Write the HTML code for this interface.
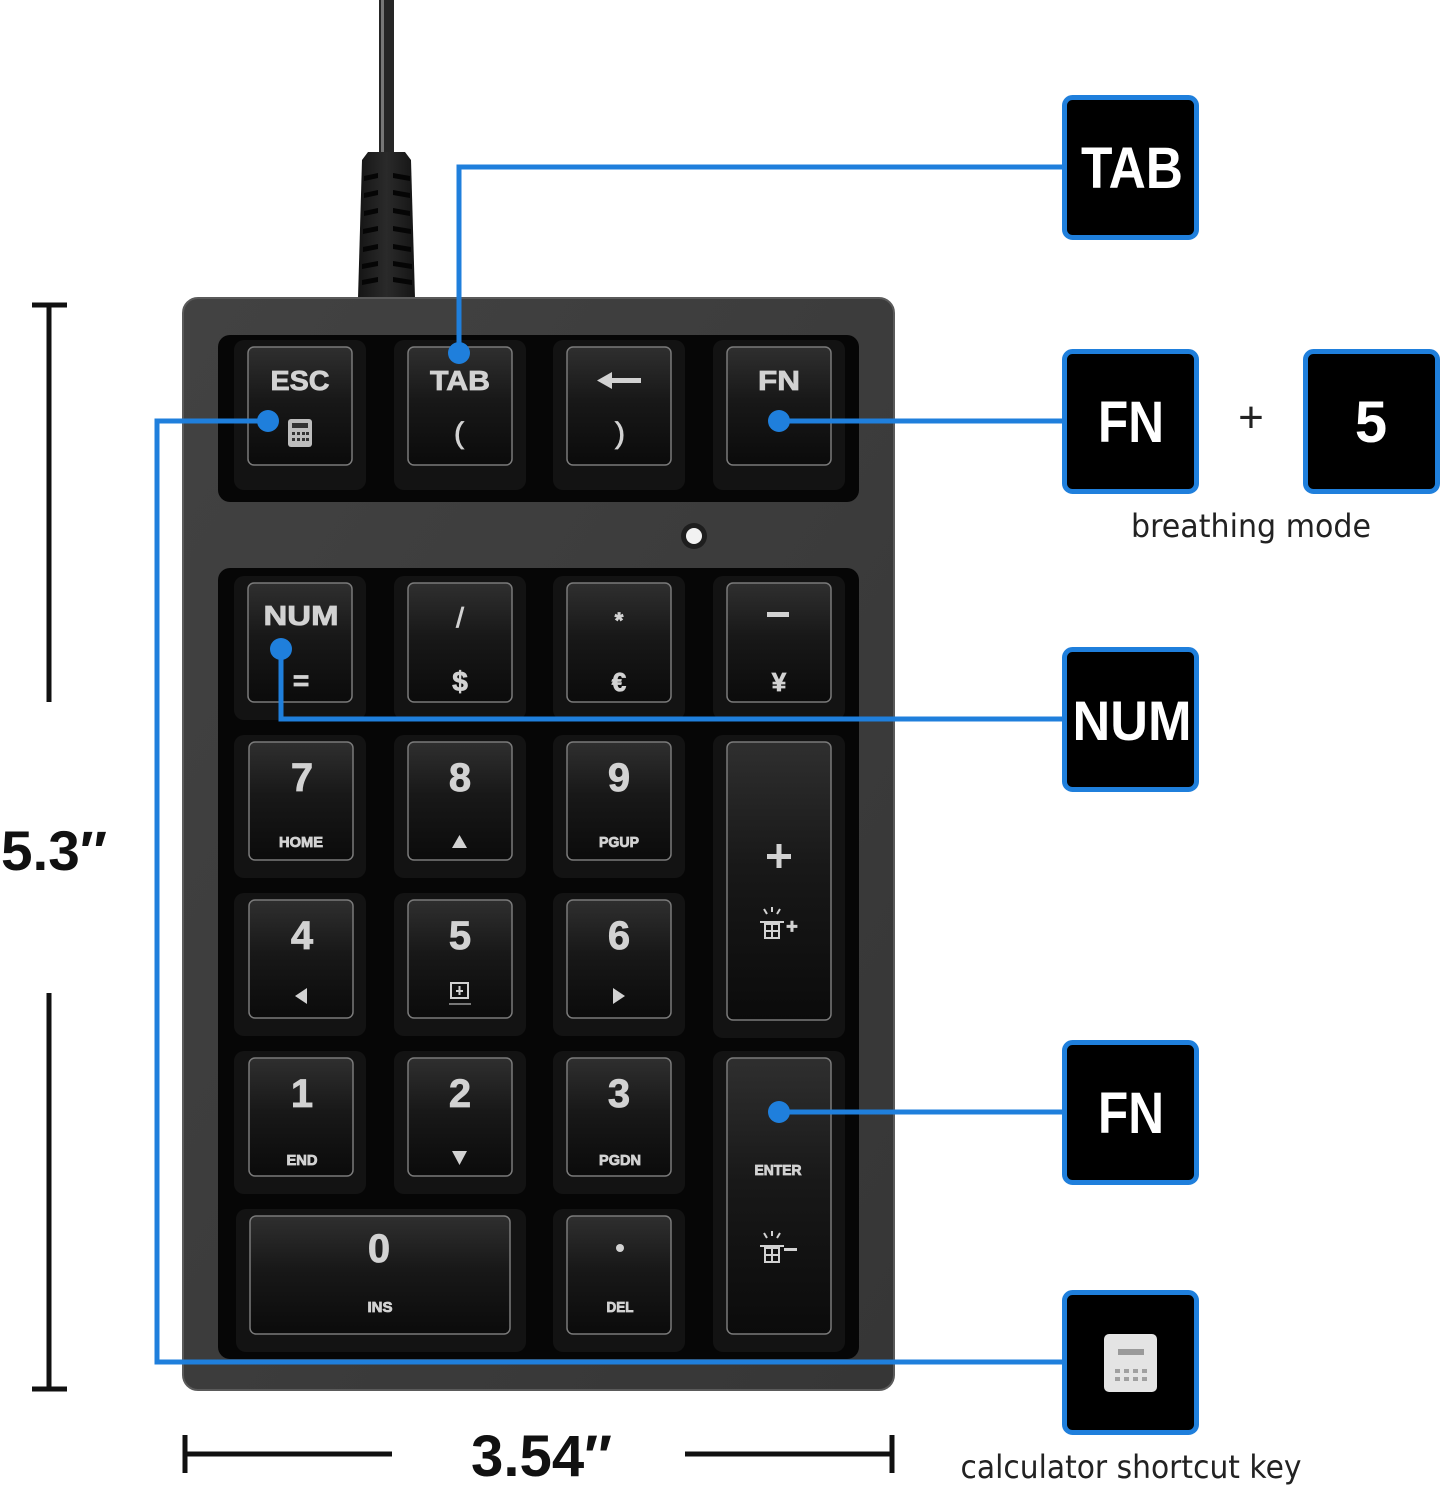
<!DOCTYPE html>
<html>
<head>
<meta charset="utf-8">
<style>
  html,body{margin:0;padding:0;background:#fff;}
  svg{display:block;}
  .kl{font-family:"Liberation Sans",sans-serif;font-weight:bold;fill:#d2d2d2;stroke:#d2d2d2;stroke-width:0.8;text-anchor:middle;}
  .bx{font-family:"Liberation Sans",sans-serif;font-weight:bold;fill:#fff;text-anchor:middle;}
  .cap{font-family:"DejaVu Sans","Liberation Sans",sans-serif;fill:#222;text-anchor:middle;}
  .dim{font-family:"Liberation Sans",sans-serif;font-weight:bold;fill:#111;}
</style>
</head>
<body>
<svg width="1445" height="1490" viewBox="0 0 1445 1490" xmlns="http://www.w3.org/2000/svg">
  <defs>
    <linearGradient id="kf" x1="0" y1="0" x2="0" y2="1">
      <stop offset="0" stop-color="#2f2f2f"/>
      <stop offset="0.45" stop-color="#181818"/>
      <stop offset="1" stop-color="#0b0b0b"/>
    </linearGradient>
    <linearGradient id="body" x1="0" y1="0" x2="1" y2="1">
      <stop offset="0" stop-color="#424242"/>
      <stop offset="1" stop-color="#363636"/>
    </linearGradient>
    <linearGradient id="conn" x1="0" y1="0" x2="1" y2="0">
      <stop offset="0" stop-color="#151515"/>
      <stop offset="0.5" stop-color="#2a2a2a"/>
      <stop offset="1" stop-color="#151515"/>
    </linearGradient>
  </defs>

  <!-- cable -->
  <rect x="379" y="0" width="15" height="156" fill="#262626"/>
  <rect x="381" y="0" width="3" height="156" fill="#777"/>
  <path d="M368,152 L405,152 L411,160 L415,298 L358,298 L362,160 Z" fill="url(#conn)"/>
  <g fill="#050505">
    <path d="M364,176 l14,-3 v5 l-14,3z"/><path d="M393,173 l17,3 v5 l-17,-3z"/>
    <path d="M364,193 l14,-3 v5 l-14,3z"/><path d="M393,190 l17,3 v5 l-17,-3z"/>
    <path d="M364,211 l14,-3 v5 l-14,3z"/><path d="M393,208 l17,3 v5 l-17,-3z"/>
    <path d="M363,229 l15,-3 v5 l-15,3z"/><path d="M393,226 l18,3 v5 l-18,-3z"/>
    <path d="M363,247 l15,-3 v5 l-15,3z"/><path d="M393,244 l18,3 v5 l-18,-3z"/>
    <path d="M362,264 l16,-3 v5 l-16,3z"/><path d="M393,261 l19,3 v5 l-19,-3z"/>
    <path d="M362,280 l16,-3 v5 l-16,3z"/><path d="M393,277 l19,3 v5 l-19,-3z"/>
  </g>

  <!-- keyboard body -->
  <rect x="183" y="298" width="711" height="1092" rx="15" fill="url(#body)" stroke="#5a5a5a" stroke-width="2"/>
  <!-- wells -->
  <rect x="218" y="335" width="641" height="167" rx="12" fill="#060606"/>
  <rect x="218" y="568" width="641" height="791" rx="12" fill="#060606"/>
  <!-- LED -->
  <circle cx="694" cy="536" r="13" fill="#1e1e1e"/>
  <circle cx="694" cy="536" r="8" fill="#f2f2f2"/>

  <!-- key skirts -->
  <g fill="#131313">
    <rect x="234" y="340" width="132" height="150" rx="10"/>
    <rect x="394" y="340" width="132" height="150" rx="10"/>
    <rect x="553" y="340" width="132" height="150" rx="10"/>
    <rect x="713" y="340" width="132" height="150" rx="10"/>

    <rect x="234" y="576" width="132" height="144" rx="10"/>
    <rect x="394" y="576" width="132" height="144" rx="10"/>
    <rect x="553" y="576" width="132" height="144" rx="10"/>
    <rect x="713" y="576" width="132" height="144" rx="10"/>

    <rect x="234" y="735" width="132" height="143" rx="10"/>
    <rect x="394" y="735" width="132" height="143" rx="10"/>
    <rect x="553" y="735" width="132" height="143" rx="10"/>
    <rect x="713" y="735" width="132" height="303" rx="10"/>

    <rect x="234" y="893" width="132" height="143" rx="10"/>
    <rect x="394" y="893" width="132" height="143" rx="10"/>
    <rect x="553" y="893" width="132" height="143" rx="10"/>

    <rect x="234" y="1051" width="132" height="143" rx="10"/>
    <rect x="394" y="1051" width="132" height="143" rx="10"/>
    <rect x="553" y="1051" width="132" height="143" rx="10"/>
    <rect x="713" y="1051" width="132" height="301" rx="10"/>

    <rect x="236" y="1209" width="290" height="143" rx="10"/>
    <rect x="553" y="1209" width="132" height="143" rx="10"/>
  </g>

  <!-- key faces -->
  <g fill="url(#kf)" stroke="#7a7a7a" stroke-width="1.5">
    <rect x="248" y="347" width="104" height="118" rx="6"/>
    <rect x="408" y="347" width="104" height="118" rx="6"/>
    <rect x="567" y="347" width="104" height="118" rx="6"/>
    <rect x="727" y="347" width="104" height="118" rx="6"/>

    <rect x="248" y="583" width="104" height="119" rx="6"/>
    <rect x="408" y="583" width="104" height="119" rx="6"/>
    <rect x="567" y="583" width="104" height="119" rx="6"/>
    <rect x="727" y="583" width="104" height="119" rx="6"/>

    <rect x="249" y="742" width="104" height="118" rx="6"/>
    <rect x="408" y="742" width="104" height="118" rx="6"/>
    <rect x="567" y="742" width="104" height="118" rx="6"/>
    <rect x="727" y="742" width="104" height="278" rx="6"/>

    <rect x="249" y="900" width="104" height="118" rx="6"/>
    <rect x="408" y="900" width="104" height="118" rx="6"/>
    <rect x="567" y="900" width="104" height="118" rx="6"/>

    <rect x="249" y="1058" width="104" height="118" rx="6"/>
    <rect x="408" y="1058" width="104" height="118" rx="6"/>
    <rect x="567" y="1058" width="104" height="118" rx="6"/>
    <rect x="727" y="1058" width="104" height="276" rx="6"/>

    <rect x="250" y="1216" width="260" height="118" rx="6"/>
    <rect x="567" y="1216" width="104" height="118" rx="6"/>
  </g>

  <!-- top row legends -->
  <text class="kl" x="300" y="390" font-size="28" textLength="59" lengthAdjust="spacingAndGlyphs">ESC</text>
  <rect x="288" y="419" width="24" height="28" rx="3" fill="#bdbdbd"/>
  <g fill="#333">
    <rect x="292" y="423" width="16" height="5"/>
    <rect x="292" y="432" width="3" height="3"/><rect x="297" y="432" width="3" height="3"/><rect x="302" y="432" width="3" height="3"/><rect x="306" y="432" width="3" height="3"/>
    <rect x="292" y="438" width="3" height="3"/><rect x="297" y="438" width="3" height="3"/><rect x="302" y="438" width="3" height="3"/><rect x="306" y="438" width="3" height="3"/>
  </g>
  <text class="kl" x="460" y="390" font-size="28" textLength="60" lengthAdjust="spacingAndGlyphs">TAB</text>
  <text class="kl" x="459" y="443" font-size="30" style="font-weight:normal">(</text>
  <rect x="608" y="378" width="33" height="5" fill="#d2d2d2"/>
  <polygon points="597,380.5 612,372 612,389" fill="#d2d2d2"/>
  <text class="kl" x="620" y="443" font-size="30" style="font-weight:normal">)</text>
  <text class="kl" x="779" y="390" font-size="28" textLength="42" lengthAdjust="spacingAndGlyphs">FN</text>

  <!-- row 2 -->
  <text class="kl" x="301" y="625" font-size="28" textLength="75" lengthAdjust="spacingAndGlyphs">NUM</text>
  <text class="kl" x="301" y="690" font-size="28">=</text>
  <text class="kl" x="460" y="627" font-size="28" style="font-weight:normal">/</text>
  <text class="kl" x="460" y="691" font-size="28">$</text>
  <text class="kl" x="619" y="628" font-size="22">*</text>
  <text class="kl" x="619" y="691" font-size="26">€</text>
  <rect x="767" y="612" width="22" height="5" fill="#d2d2d2"/>
  <text class="kl" x="779" y="691" font-size="26">¥</text>

  <!-- row 3 -->
  <text class="kl" x="302" y="791" font-size="40">7</text>
  <text class="kl" x="301" y="847" font-size="15" textLength="44" lengthAdjust="spacingAndGlyphs">HOME</text>
  <text class="kl" x="460" y="791" font-size="40">8</text>
  <polygon points="452,848 467,848 459.5,835" fill="#d2d2d2"/>
  <text class="kl" x="619" y="791" font-size="40">9</text>
  <text class="kl" x="619" y="847" font-size="15" textLength="40" lengthAdjust="spacingAndGlyphs">PGUP</text>
  <!-- plus key -->
  <rect x="767" y="854" width="24" height="5" fill="#d2d2d2"/>
  <rect x="776.5" y="844" width="5" height="24" fill="#d2d2d2"/>
  <g stroke="#d2d2d2" stroke-width="2" fill="none">
    <line x1="767" y1="914" x2="764" y2="909"/><line x1="772" y1="912" x2="772" y2="907"/><line x1="777" y1="914" x2="780" y2="909"/>
    <line x1="760" y1="922" x2="784" y2="922"/>
    <rect x="765" y="924" width="14" height="14"/>
    <line x1="765" y1="931" x2="779" y2="931"/><line x1="772" y1="924" x2="772" y2="938"/>
  </g>
  <text class="kl" x="792" y="933" font-size="20">+</text>

  <!-- row 4 -->
  <text class="kl" x="302" y="949" font-size="40">4</text>
  <polygon points="307,988 307,1004 295,996" fill="#d2d2d2"/>
  <text class="kl" x="460" y="949" font-size="40">5</text>
  <g stroke="#d2d2d2" stroke-width="2" fill="none">
    <rect x="451" y="983" width="17" height="15"/>
    <line x1="456" y1="991" x2="463" y2="991"/><line x1="459.5" y1="986" x2="459.5" y2="995"/>
    <line x1="449" y1="1004" x2="471" y2="1004" stroke="#777"/>
  </g>
  <text class="kl" x="619" y="949" font-size="40">6</text>
  <polygon points="613,988 613,1004 625,996" fill="#d2d2d2"/>

  <!-- row 5 -->
  <text class="kl" x="302" y="1107" font-size="40">1</text>
  <text class="kl" x="302" y="1165" font-size="15" textLength="31" lengthAdjust="spacingAndGlyphs">END</text>
  <text class="kl" x="460" y="1107" font-size="40">2</text>
  <polygon points="452,1151 467,1151 459.5,1165" fill="#d2d2d2"/>
  <text class="kl" x="619" y="1107" font-size="40">3</text>
  <text class="kl" x="620" y="1165" font-size="15" textLength="42" lengthAdjust="spacingAndGlyphs">PGDN</text>
  <!-- enter key -->
  <text class="kl" x="778" y="1175" font-size="15" textLength="47" lengthAdjust="spacingAndGlyphs">ENTER</text>
  <g stroke="#d2d2d2" stroke-width="2" fill="none">
    <line x1="767" y1="1238" x2="764" y2="1233"/><line x1="772" y1="1236" x2="772" y2="1231"/><line x1="777" y1="1238" x2="780" y2="1233"/>
    <line x1="760" y1="1246" x2="784" y2="1246"/>
    <rect x="765" y="1248" width="14" height="14"/>
    <line x1="765" y1="1255" x2="779" y2="1255"/><line x1="772" y1="1248" x2="772" y2="1262"/>
  </g>
  <rect x="784" y="1248" width="13" height="3" fill="#d2d2d2"/>

  <!-- row 6 -->
  <text class="kl" x="379" y="1262" font-size="40">0</text>
  <text class="kl" x="380" y="1312" font-size="15" textLength="25" lengthAdjust="spacingAndGlyphs">INS</text>
  <circle cx="620" cy="1248" r="4" fill="#d2d2d2"/>
  <text class="kl" x="620" y="1312" font-size="15" textLength="27" lengthAdjust="spacingAndGlyphs">DEL</text>

  <!-- blue connectors -->
  <g stroke="#1f7fdc" stroke-width="5" fill="none">
    <path d="M459,353 V167 H1064"/>
    <path d="M779,421 H1064"/>
    <path d="M268,421 H157 V1362 H1064"/>
    <path d="M281,649 V719 H1064"/>
    <path d="M779,1112 H1064"/>
  </g>
  <g fill="#1f7fdc">
    <circle cx="459" cy="353" r="11"/>
    <circle cx="268" cy="421" r="11"/>
    <circle cx="779" cy="421" r="11"/>
    <circle cx="281" cy="649" r="11"/>
    <circle cx="779" cy="1112" r="11"/>
  </g>

  <!-- callout boxes -->
  <g fill="#000" stroke="#1f7fdc" stroke-width="5">
    <rect x="1064.5" y="97.5" width="132" height="140" rx="8"/>
    <rect x="1064.5" y="351.5" width="132" height="140" rx="8"/>
    <rect x="1305.5" y="351.5" width="132" height="140" rx="8"/>
    <rect x="1064.5" y="649.5" width="132" height="140" rx="8"/>
    <rect x="1064.5" y="1042.5" width="132" height="140" rx="8"/>
    <rect x="1064.5" y="1292.5" width="132" height="140" rx="8"/>
  </g>
  <text class="bx" x="1132" y="188" font-size="58" textLength="102" lengthAdjust="spacingAndGlyphs">TAB</text>
  <text class="bx" x="1131" y="442" font-size="58" textLength="66" lengthAdjust="spacingAndGlyphs">FN</text>
  <text x="1251" y="432" font-family="Liberation Sans,sans-serif" font-size="44" fill="#222" text-anchor="middle">+</text>
  <text class="bx" x="1371" y="442" font-size="58">5</text>
  <text class="cap" x="1251" y="537" font-size="32" textLength="240" lengthAdjust="spacingAndGlyphs">breathing mode</text>
  <text class="bx" x="1132" y="740" font-size="56" textLength="119" lengthAdjust="spacingAndGlyphs">NUM</text>
  <text class="bx" x="1131" y="1133" font-size="58" textLength="66" lengthAdjust="spacingAndGlyphs">FN</text>
  <!-- calculator icon -->
  <rect x="1104" y="1334" width="53" height="58" rx="5" fill="#e4e4e4"/>
  <rect x="1118" y="1349" width="26" height="6" fill="#9a9a9a"/>
  <g fill="#a0a0a0">
    <rect x="1115" y="1369" width="5" height="4"/><rect x="1124" y="1369" width="5" height="4"/><rect x="1133" y="1369" width="5" height="4"/><rect x="1142" y="1369" width="5" height="4"/>
    <rect x="1115" y="1377" width="5" height="4"/><rect x="1124" y="1377" width="5" height="4"/><rect x="1133" y="1377" width="5" height="4"/><rect x="1142" y="1377" width="5" height="4"/>
  </g>
  <text class="cap" x="1131" y="1478" font-size="32" textLength="341" lengthAdjust="spacingAndGlyphs">calculator shortcut key</text>

  <!-- dimension: height -->
  <g stroke="#111" stroke-width="5">
    <line x1="32" y1="305" x2="67" y2="305"/>
    <line x1="49" y1="305" x2="49" y2="702"/>
    <line x1="49" y1="993" x2="49" y2="1389"/>
    <line x1="32" y1="1389" x2="67" y2="1389"/>
  </g>
  <text class="dim" x="1" y="870" font-size="56" textLength="106" lengthAdjust="spacingAndGlyphs">5.3″</text>

  <!-- dimension: width -->
  <g stroke="#111" stroke-width="5">
    <line x1="185" y1="1435" x2="185" y2="1473"/>
    <line x1="185" y1="1454" x2="392" y2="1454"/>
    <line x1="685" y1="1454" x2="892" y2="1454"/>
    <line x1="892" y1="1435" x2="892" y2="1473"/>
  </g>
  <text class="dim" x="471" y="1476" font-size="58" textLength="141" lengthAdjust="spacingAndGlyphs">3.54″</text>
</svg>
</body>
</html>
